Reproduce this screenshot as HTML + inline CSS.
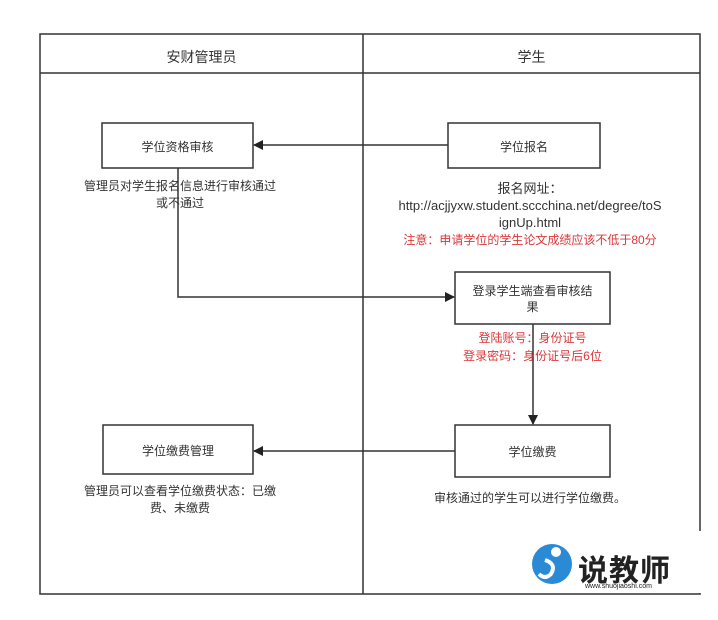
<!DOCTYPE html>
<html><head><meta charset="utf-8"><style>
body{margin:0;width:718px;height:620px;background:#fff;overflow:hidden;font-family:"Liberation Sans","Noto Sans CJK SC",sans-serif;}
.t{position:absolute;font-size:12px;color:#333;text-align:center;white-space:nowrap;}
.r{color:#d9383a;}
</style></head><body>
<svg width="718" height="620" style="position:absolute;left:0;top:0">
<defs><marker id="a" markerWidth="10" markerHeight="10" refX="9" refY="5" orient="auto" markerUnits="userSpaceOnUse"><path d="M0,0 L10,5 L0,10z" fill="#222"/></marker></defs>
<g stroke="#333" stroke-width="1.5" fill="none">
<rect x="40" y="34" width="660" height="560"/>
<line x1="40" y1="73" x2="700" y2="73"/>
<line x1="363" y1="34" x2="363" y2="594"/>
<rect x="102" y="123" width="151" height="45" fill="#fff"/>
<rect x="448" y="123" width="152" height="45" fill="#fff"/>
<rect x="455" y="272" width="155" height="52" fill="#fff"/>
<rect x="455" y="425" width="155" height="52" fill="#fff"/>
<rect x="103" y="425" width="150" height="49" fill="#fff"/>
<line x1="448" y1="145" x2="254" y2="145" marker-end="url(#a)"/>
<polyline points="178,168 178,297 454,297" marker-end="url(#a)"/>
<line x1="533" y1="324" x2="533" y2="424" marker-end="url(#a)"/>
<line x1="455" y1="451" x2="254" y2="451" marker-end="url(#a)"/>
</g>
<rect x="508" y="531" width="195" height="62" fill="#fff"/>
<circle cx="552" cy="564" r="20" fill="#2a8ad6"/>
<circle cx="556" cy="552" r="5" fill="#fff"/>
<path d="M545,560 q12,4 6,14 q-6,6 -12,0" stroke="#fff" stroke-width="4" fill="none"/>
</svg>
<div class="t" style="left:40px;width:323px;top:47px;font-size:14px">安财管理员</div>
<div class="t" style="left:363px;width:337px;top:47px;font-size:14px">学生</div>
<div class="t" style="left:102px;width:151px;top:138px">学位资格审核</div>
<div class="t" style="left:448px;width:152px;top:138px">学位报名</div>
<div class="t" style="left:455px;width:155px;top:283px;line-height:16px;white-space:normal">登录学生端查看审核结<br>果</div>
<div class="t" style="left:455px;width:155px;top:443px">学位缴费</div>
<div class="t" style="left:103px;width:150px;top:442px">学位缴费管理</div>
<div class="t" style="left:60px;width:240px;top:178px;line-height:17px">管理员对学生报名信息进行审核通过<br>或不通过</div>
<div class="t" style="left:380px;width:300px;top:180px;line-height:17px;font-size:13px">报名网址：<br>http://acjjyxw.student.sccchina.net/degree/toS<br>ignUp.html<br><span class="r" style="font-size:12px">注意：申请学位的学生论文成绩应该不低于80分</span></div>
<div class="t r" style="left:430px;width:205px;top:329px;line-height:18px">登陆账号：身份证号<br>登录密码：身份证号后6位</div>
<div class="t" style="left:60px;width:240px;top:483px;line-height:17px">管理员可以查看学位缴费状态：已缴<br>费、未缴费</div>
<div class="t" style="left:400px;width:260px;top:489px">审核通过的学生可以进行学位缴费。</div>
<div class="t" style="left:578px;top:546px;font-size:30px;font-weight:bold;color:#222;letter-spacing:1px">说教师</div>
<div class="t" style="left:585px;top:583px;font-size:7px;color:#222">www.shuojiaoshi.com</div>
</body></html>
